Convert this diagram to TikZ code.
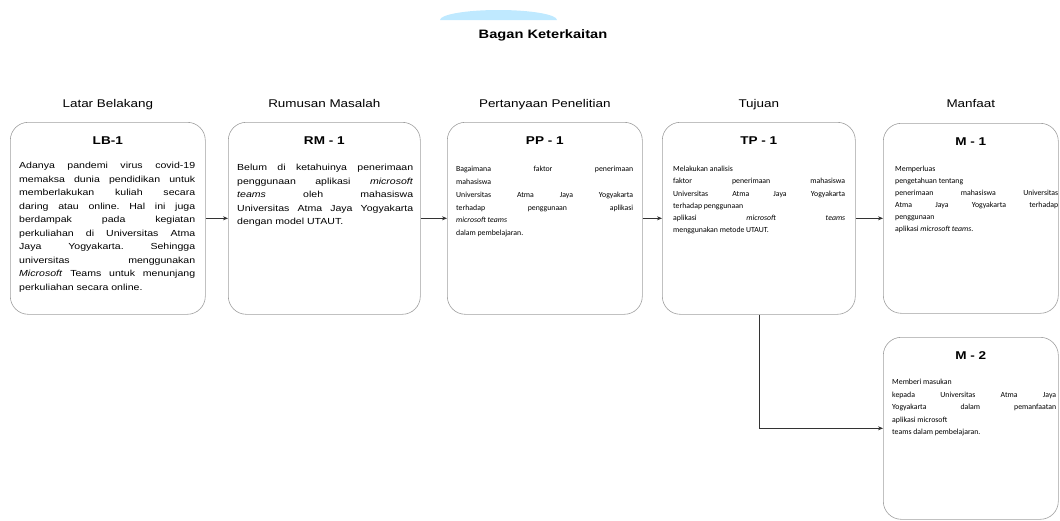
\documentclass[tikz,border=0pt]{standalone}
\usepackage{fontspec}
\setmainfont[FakeStretch=1.2]{Liberation Sans}
\newfontfamily\calfont{Carlito}
\usetikzlibrary{positioning, arrows.meta}
\hyphenpenalty=10000
\exhyphenpenalty=10000
\frenchspacing

\tikzset{
  card/.style={draw=gray!75, rounded corners=18pt, line width=0.6pt, anchor=north west, inner sep=0pt},
  cardtitle/.style={anchor=base, font=\fontsize{11.3}{13}\selectfont\bfseries},
  colhead/.style={anchor=base, font=\fontsize{11.2}{13}\selectfont},
  cardtext/.style={anchor=north west, inner sep=0pt, text width=#1, align=justify,
    font=\fontsize{8.8}{13.5}\selectfont},
  cardtext/.default=176pt,
  caltext/.style={cardtext=#1, font=\calfont\fontsize{7.8}{12.8}\selectfont},
  link/.style={-{Stealth[length=5pt,width=4pt]}, draw=black!80, line width=0.6pt}
}

\begin{document}
\begin{tikzpicture}[x=1pt, y=1pt]
    \useasboundingbox (0,0) rectangle (1060,-520);
    % watermark remnant
    \fill[blue!35!cyan!25] (440,-20) arc[start angle=180, end angle=0, x radius=58.5, y radius=10] -- cycle;
    \node[font=\fontsize{12.2}{14}\selectfont\bfseries] (title) at (543,-35) {Bagan Keterkaitan};

    % boxes
    \node[card, minimum width=195pt, minimum height=192pt] (lb) at (10,-122) {};
    \node[card, minimum width=192pt, minimum height=192pt] (rm) at (228,-122) {};
    \node[card, minimum width=195pt, minimum height=192pt] (pp) at (447,-122) {};
    \node[card, minimum width=193pt, minimum height=192pt] (tp) at (662,-122) {};
    \node[card, minimum width=175pt, minimum height=190pt] (m1) at (883,-123) {};
    \node[card, minimum width=175pt, minimum height=182pt] (m2) at (883,-337) {};

    % column headings
    \foreach \bx/\hd in {lb/Latar Belakang, rm/Rumusan Masalah, pp/Pertanyaan Penelitian,
                         tp/Tujuan, m1/Manfaat} {
        \node[colhead] (h-\bx) at (\bx.north |- 0,-107) {\hd};
    }

    % box titles
    \foreach \bx/\tl in {lb/LB-1, rm/RM - 1, pp/PP - 1, tp/TP - 1, m1/M - 1, m2/M - 2} {
        \node[cardtitle, below=22pt of \bx.north, anchor=base] (t-\bx) {\tl};
    }

    % box texts
    \node[cardtext] (x-lb) at (19,-162) {Adanya pandemi virus covid-19\linebreak
        memaksa dunia pendidikan untuk\linebreak memberlakukan kuliah secara\linebreak
        daring atau online. Hal ini juga\linebreak berdampak pada kegiatan\linebreak
        perkuliahan di Universitas Atma\linebreak Jaya Yogyakarta. Sehingga\linebreak
        universitas menggunakan\linebreak \textit{Microsoft} Teams untuk menunjang\linebreak
        perkuliahan secara online.};
    \node[cardtext] (x-rm) at (237,-164) {Belum di ketahuinya penerimaan\linebreak
        penggunaan aplikasi \textit{microsoft}\linebreak \textit{teams} oleh mahasiswa\linebreak
        Universitas Atma Jaya Yogyakarta\linebreak dengan model UTAUT.};
    \node[caltext=177pt] (x-pp) at (456,-166) {Bagaimana faktor penerimaan\linebreak
        mahasiswa\newline Universitas Atma Jaya Yogyakarta\linebreak
        terhadap penggunaan aplikasi\linebreak \textit{microsoft teams}\newline
        dalam pembelajaran.};
    \node[caltext=172pt, font=\calfont\fontsize{7.8}{12.2}\selectfont] (x-tp) at (673,-166) {Melakukan analisis\newline
        faktor penerimaan mahasiswa\linebreak Universitas Atma Jaya Yogyakarta\linebreak
        terhadap penggunaan\newline aplikasi \textit{microsoft teams}\linebreak
        menggunakan metode UTAUT.};
    \node[caltext=163pt, font=\calfont\fontsize{7.8}{12}\selectfont] (x-m1) at (895,-166) {Memperluas\newline
        pengetahuan tentang\newline penerimaan mahasiswa Universitas\linebreak
        Atma Jaya Yogyakarta terhadap\linebreak penggunaan\newline
        aplikasi \textit{microsoft teams}.};
    \node[caltext=164pt, font=\calfont\fontsize{7.8}{12.5}\selectfont] (x-m2) at (892,-379) {Memberi masukan\newline
        kepada Universitas Atma Jaya\linebreak Yogyakarta dalam pemanfaatan\linebreak
        aplikasi microsoft\newline teams dalam pembelajaran.};

    % connectors
    \draw[link] (lb) -- (rm);
    \draw[link] (rm) -- (pp);
    \draw[link] (pp) -- (tp);
    \draw[link] (tp) -- (m1);
    \draw[link] (tp.south) |- (m2.west);
\end{tikzpicture}
\end{document}
